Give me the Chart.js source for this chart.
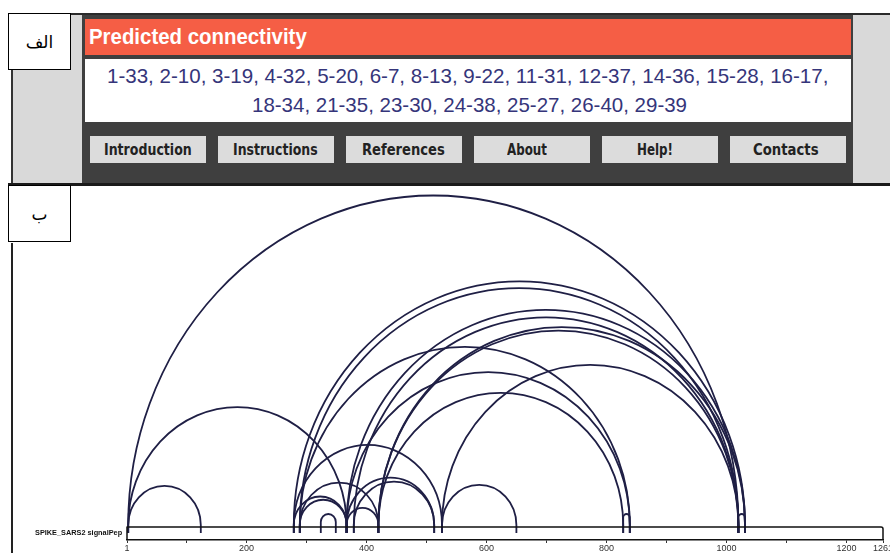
<!DOCTYPE html>
<html><head><meta charset="utf-8">
<script src="https://cdn.jsdelivr.net/npm/chart.js@4.4.1/dist/chart.umd.min.js"></script>
<style>
html,body{margin:0;padding:0;background:#fff;}
#page{position:relative;width:890px;height:553px;overflow:hidden;background:#fff;}
.a{position:absolute;}
.fit{position:absolute;white-space:nowrap;transform-origin:0 0;line-height:1;}
.btn{position:absolute;top:136px;width:116px;height:27px;background:#dcdcdc;}
.btxt{font-family:"DejaVu Sans Condensed","DejaVu Sans",sans-serif;font-weight:bold;font-size:16.5px;color:#222;}
.lbl{position:absolute;left:8px;width:61px;background:#fff;border:1.5px solid #000;display:flex;align-items:center;justify-content:center;font-family:"DejaVu Serif","DejaVu Sans",serif;font-size:17px;color:#000;}
</style></head>
<body>
<div id="page">
  <div class="a" style="left:8px;top:13px;width:882px;height:2px;background:#2a2a2a"></div>
  <div class="a" style="left:12px;top:15px;width:878px;height:168px;background:#d9d9d9"></div>
  <div class="a" style="left:11px;top:15px;width:1.5px;height:168px;background:#333"></div>
  <div class="a" style="left:82px;top:15px;width:771px;height:168px;background:#3f3f3f"></div>
  <div class="a" style="left:85px;top:19px;width:766px;height:36px;background:#f55e45"></div>
  <div class="a" style="left:85px;top:59px;width:766px;height:63px;background:#ffffff"></div>
  <div class="fit" data-w="218" style="left:89px;top:26px;font-family:'Liberation Sans',Arial,sans-serif;font-weight:bold;font-size:22px;color:#fff;">Predicted connectivity</div>
  <div class="fit" data-w="721" style="left:107px;top:65px;font-family:'Liberation Sans',Arial,sans-serif;font-size:21px;color:#35357a;">1-33, 2-10, 3-19, 4-32, 5-20, 6-7, 8-13, 9-22, 11-31, 12-37, 14-36, 15-28, 16-17,</div>
  <div class="fit" data-w="435" style="left:252px;top:94px;font-family:'Liberation Sans',Arial,sans-serif;font-size:21px;color:#35357a;">18-34, 21-35, 23-30, 24-38, 25-27, 26-40, 29-39</div>
  <div class="btn" style="left:90px"></div>
  <div class="btn" style="left:218px"></div>
  <div class="btn" style="left:346px"></div>
  <div class="btn" style="left:474px"></div>
  <div class="btn" style="left:602px"></div>
  <div class="btn" style="left:730px"></div>
  <div class="fit btxt" data-w="88" style="left:104px;top:142px;">Introduction</div>
  <div class="fit btxt" data-w="85" style="left:233px;top:142px;">Instructions</div>
  <div class="fit btxt" data-w="83" style="left:362px;top:142px;">References</div>
  <div class="fit btxt" data-w="40" style="left:507px;top:142px;">About</div>
  <div class="fit btxt" data-w="36" style="left:637px;top:142px;">Help!</div>
  <div class="fit btxt" data-w="66" style="left:753px;top:142px;">Contacts</div>
  <div class="a" style="left:8px;top:183px;width:882px;height:3px;background:#1a1a1a"></div>
  <div class="lbl" style="top:13px;height:55px;" dir="rtl">الف</div>
  <div class="a" style="left:11px;top:243px;width:1.5px;height:310px;background:#222"></div>
  <canvas id="c" class="a" width="920" height="367" style="left:0;top:186px;width:920px;height:367px"></canvas>
  <div class="lbl" style="top:185px;height:55px;" dir="rtl">ب</div>
  <div class="fit" data-w="87" style="left:35px;top:529px;font-family:'Liberation Sans',Arial,sans-serif;font-weight:bold;font-size:8px;color:#111;">SPIKE_SARS2 signalPep</div>
</div>
<script>
// Residue numbering of the mature chain (signal peptide removed), length 1261
const seqStart = 1;
const seqEnd = 1261;
const tickValues = [1,100,200,300,400,500,600,700,800,900,1000,1100,1200,1261];
const labeledTicks = [1,200,400,600,800,1000,1200,1261];
// Cysteine positions drawn as arc end points
const cysPositions = [3,124,279,289,324,349,367,379,420,513,526,650,828,839,1020,1031];
// Arc connections (from residue -> to residue)
const arcFrom = [3,   3,   3,    324, 526, 828, 1020, 279, 289, 289, 279, 367, 367, 379, 420, 367, 289, 526,  279,  289,  367,  379,  420,  420];
const arcTo   = [124, 367, 1020, 349, 650, 839, 1031, 526, 420, 367, 367, 420, 513, 513, 828, 839, 839, 1020, 1031, 1020, 1031, 1020, 1020, 1031];

document.querySelectorAll('.fit').forEach(el=>{
  const w = el.offsetWidth, t = +el.dataset.w;
  if (w && t) el.style.transform = 'scaleX(' + (t / w) + ')';
});

const arcPlugin = {
  id: 'arcs',
  afterDraw(chart) {
    const ctx = chart.ctx, xs = chart.scales.x, bottom = chart.chartArea.bottom;
    ctx.save();
    ctx.strokeStyle = '#1f1f45';
    ctx.lineWidth = 1.8;
    ctx.lineJoin = 'round';
    for (let i = 0; i < arcFrom.length; i++) {
      const x1 = xs.getPixelForValue(arcFrom[i]);
      const x2 = xs.getPixelForValue(arcTo[i]);
      const cx = (x1 + x2) / 2, rx = (x2 - x1) / 2, ry = rx * 1.08;
      const base = Math.min(bottom - 15, bottom - 26 + ry);
      ctx.beginPath();
      ctx.moveTo(x1, bottom - 7);
      ctx.lineTo(x1, base);
      ctx.ellipse(cx, base, rx, ry, 0, Math.PI, 2 * Math.PI);
      ctx.lineTo(x2, bottom - 7);
      ctx.stroke();
    }
    // sequence bar
    const bx1 = xs.getPixelForValue(seqStart), bx2 = xs.getPixelForValue(seqEnd);
    ctx.strokeStyle = '#111';
    ctx.lineWidth = 1.5;
    ctx.beginPath();
    ctx.moveTo(bx1, bottom);
    ctx.lineTo(bx1, bottom - 13);
    ctx.lineTo(bx2 - 2, bottom - 13);
    ctx.quadraticCurveTo(bx2, bottom - 13, bx2, bottom - 11);
    ctx.lineTo(bx2, bottom);
    ctx.stroke();
    ctx.restore();
  }
};

new Chart(document.getElementById('c').getContext('2d'), {
  type: 'scatter',
  data: { datasets: [{ data: [], showLine: false }] },
  options: {
    responsive: false,
    animation: false,
    events: [],
    layout: { padding: { left: 127, right: 37, top: 0, bottom: 0 } },
    plugins: { legend: { display: false }, tooltip: { enabled: false } },
    scales: {
      x: {
        type: 'linear', min: seqStart, max: seqEnd,
        afterBuildTicks: s => { s.ticks = tickValues.map(v => ({ value: v })); },
        afterFit: s => { s.height = 13; },
        grid: { drawOnChartArea: false, drawTicks: true, tickLength: 3, color: '#333', lineWidth: 1 },
        border: { display: true, color: '#111', width: 1.5 },
        ticks: {
          autoSkip: false, maxRotation: 0, minRotation: 0, padding: 0,
          font: { size: 9, family: 'Liberation Sans' }, color: '#333',
          callback: v => labeledTicks.includes(v) ? String(v) : ''
        }
      },
      y: { display: false, min: 0, max: 1 }
    }
  },
  plugins: [arcPlugin]
});
</script>
</body></html>
